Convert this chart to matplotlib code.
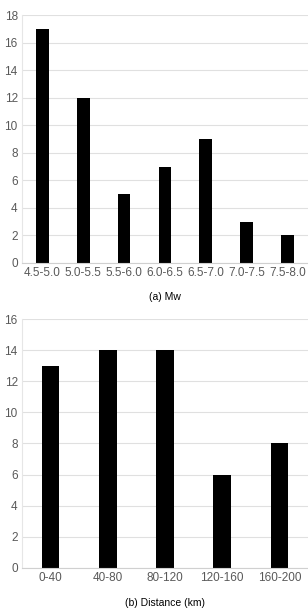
import matplotlib.pyplot as plt

plt.rcParams.update({
    'font.family': ['Liberation Sans', 'DejaVu Sans'],
    'font.size': 8,
})

# (a) magnitude bins
mw_bins = ['4.5-5.0', '5.0-5.5', '5.5-6.0', '6.0-6.5', '6.5-7.0', '7.0-7.5', '7.5-8.0']
mw_counts = [17, 12, 5, 7, 9, 3, 2]

# (b) distance bins
dist_bins = ['0-40', '40-80', '80-120', '120-160', '160-200']
dist_counts = [13, 14, 14, 6, 8]

fig = plt.figure(figsize=(3.08, 6.10), dpi=100)
ax1 = fig.add_axes([0.071, 0.569, 0.929, 0.406])
ax2 = fig.add_axes([0.071, 0.069, 0.929, 0.408])


def style(ax, ymax):
    ax.set_ylim(0, ymax)
    ax.set_yticks(range(0, ymax + 1, 2))
    ax.grid(True, axis='y', color='#e0e0e0', linewidth=0.8)
    ax.set_axisbelow(True)
    for s in ['top', 'right']:
        ax.spines[s].set_visible(False)
    ax.spines['left'].set_color('#e6e6e6')
    ax.spines['bottom'].set_color('#d0d0d0')
    ax.tick_params(length=0, colors='#595959', labelsize=8.5, pad=3)


ax1.bar(range(len(mw_bins)), mw_counts, width=0.31, color='black')
ax1.set_xticks(range(len(mw_bins)))
ax1.set_xticklabels(mw_bins)
ax1.set_xlim(-0.5, len(mw_bins) - 0.5)
style(ax1, 18)
ax1.set_xlabel('(a) Mw', fontsize=7.5, labelpad=9)

ax2.bar(range(len(dist_bins)), dist_counts, width=0.31, color='black')
ax2.set_xticks(range(len(dist_bins)))
ax2.set_xticklabels(dist_bins)
ax2.set_xlim(-0.5, len(dist_bins) - 0.5)
style(ax2, 16)
ax2.set_xlabel('(b) Distance (km)', fontsize=7.5, labelpad=10)

plt.savefig('out.png', dpi=100, facecolor='white')
